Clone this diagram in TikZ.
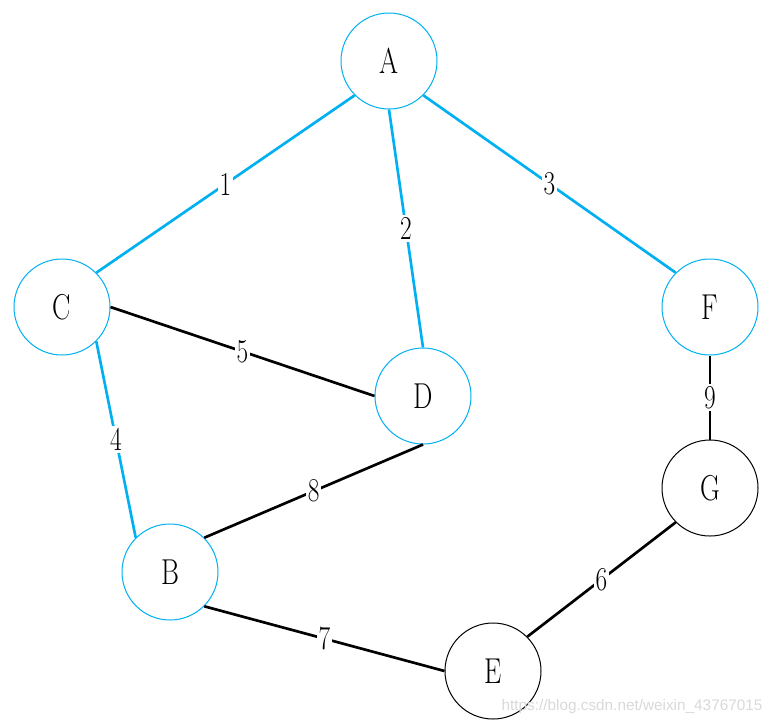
\documentclass[tikz,border=0pt]{standalone}
\usepackage{fontspec}
\setmainfont{Latin Modern Roman}[FakeStretch=0.76]
\newfontfamily\wmfont{Liberation Sans}
\usepackage{xcolor}
\usepackage{tikz}
\usetikzlibrary{positioning}

\definecolor{treeblue}{RGB}{0,176,240}

\begin{document}
\begin{tikzpicture}[
    x=0.75pt, y=-0.75pt,
    vtx/.style={circle, draw=black, line width=0.75pt, minimum size=72pt, inner sep=0pt, font=\fontsize{27}{32}\selectfont},
    tvtx/.style={vtx, draw=treeblue},
    edg/.style={line width=2pt, draw=black},
    tedg/.style={edg, draw=treeblue},
    wt/.style={fill=white, inner sep=1.5pt, font=\fontsize{25}{30}\selectfont}
]
    \useasboundingbox (0,0) rectangle (777,726);

    \node [tvtx] (A) at (389,61) {A};
    \node [tvtx] (C) at (62,307) {C};
    \node [tvtx] (D) at (423,396) {D};
    \node [tvtx] (F) at (710,307) {F};
    \node [vtx] (G) at (710,488) {G};
    \node [tvtx] (B) at (170,572) {B};
    \node [vtx] (E) at (493,671) {E};

    \draw [tedg] (A.south west) -- node [wt] {1} (C.north east);
    \draw [tedg] (A.south) -- node [wt] {2} (D.north);
    \draw [tedg] (A.south east) -- node [wt] {3} (F.north west);
    \draw [tedg] (C.south east) -- node [wt] {4} (B.north west);
    \draw [edg] (C.east) -- node [wt] {5} (D.west);
    \draw [edg] (G.south west) -- node [wt] {6} (E.north east);
    \draw [edg] (B.south east) -- node [wt] {7} (E.west);
    \draw [edg] (D.south) -- node [wt] {8} (B.north east);
    \draw [edg] (F.south) -- node [wt] {9} (G.north);

    \node [text=black!15, font=\wmfont\fontsize{11.5}{13}\selectfont] (wm) at (632,707) {https://blog.csdn.net/weixin\_43767015};
\end{tikzpicture}
\end{document}
